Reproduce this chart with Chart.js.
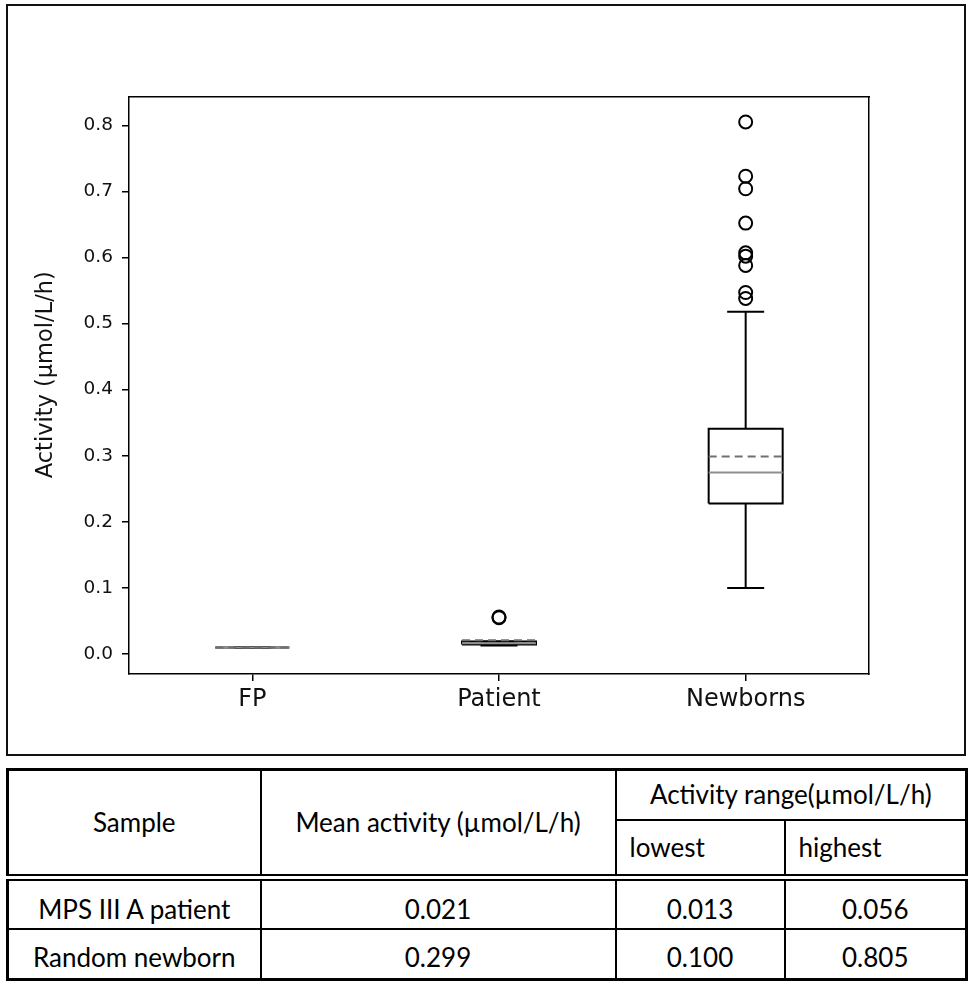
<!DOCTYPE html>
<html><head><meta charset="utf-8">
<script src="https://cdn.jsdelivr.net/npm/chart.js@4.4.0/dist/chart.umd.min.js"></script>
<style>
html,body{margin:0;padding:0;background:#fff;}
body{width:969px;height:994px;position:relative;overflow:hidden;}
#frame{position:absolute;left:6px;top:4px;width:960px;height:752px;border:2px solid #111;box-sizing:border-box;}
#c{position:absolute;left:0;top:0;}
table{position:absolute;left:6px;top:768px;width:959px;border-collapse:collapse;font-family:Lato,'Open Sans',sans-serif;font-size:26px;color:#000;table-layout:fixed;border:3px solid #000;}
td{border:2px solid #000;text-align:center;padding:0;line-height:1.2;}
td.sub{text-align:left;padding-left:13px;}
tr.hdr2 td{border-bottom:7px double #000;}
td.hd{border-bottom:7px double #000;}
tr.r1 td{vertical-align:bottom;padding-bottom:2px;}
tr.r2 td{vertical-align:bottom;padding-bottom:5px;}
</style></head><body>
<div id="frame"></div>
<canvas id="c" width="969" height="760"></canvas>
<table id="t"></table>
<script>
// ---- data ----
const categories = ['FP', 'Patient', 'Newborns'];
const positions = [1, 2, 3];
const whiskerLow = [0.010, 0.013, 0.100];
const q1 = [0.010, 0.0145, 0.2276];
const median = [0.010, 0.0165, 0.2745];
const q3 = [0.010, 0.019, 0.341];
const whiskerHigh = [0.010, 0.019, 0.518];
const means = [0.010, 0.021, 0.299];
const outliersFP = [];
const outliersPatient = [0.056, 0.055];
const outliersNewborns = [0.805, 0.723, 0.704, 0.652, 0.607, 0.602, 0.588, 0.547, 0.538];
const yTicks = [0.0, 0.1, 0.2, 0.3, 0.4, 0.5, 0.6, 0.7, 0.8];
const yTitle = 'Activity (µmol/L/h)';

const tableSamples = ['MPS III A patient', 'Random newborn'];
const tableMean = ['0.021', '0.299'];
const tableLowest = ['0.013', '0.100'];
const tableHighest = ['0.056', '0.805'];

// ---- styles ----
const HALF_BOX = 0.15, HALF_CAP = 0.075;
const outlierSets = [outliersFP, outliersPatient, outliersNewborns];

const datasets = [];
function seg(points, color, width, dash, order) {
  datasets.push({data: points, showLine: true, borderColor: color, borderWidth: width,
    borderDash: dash || [], pointRadius: 0, fill: false, order: order, tension: 0});
}
positions.forEach((p, i) => {
  seg([{x:p-HALF_BOX,y:means[i]},{x:p+HALF_BOX,y:means[i]}], '#707070', 2, [8,5], 0);
  seg([{x:p-HALF_BOX,y:median[i]},{x:p+HALF_BOX,y:median[i]}], '#8e8e8e', 2, null, 1);
  seg([{x:p-HALF_BOX,y:q1[i]},{x:p+HALF_BOX,y:q1[i]},{x:p+HALF_BOX,y:q3[i]},{x:p-HALF_BOX,y:q3[i]},{x:p-HALF_BOX,y:q1[i]}], '#000', 2, null, 2);
  seg([{x:p,y:q1[i]},{x:p,y:whiskerLow[i]}], '#000', 2, null, 3);
  seg([{x:p,y:q3[i]},{x:p,y:whiskerHigh[i]}], '#000', 2, null, 3);
  seg([{x:p-HALF_CAP,y:whiskerLow[i]},{x:p+HALF_CAP,y:whiskerLow[i]}], '#000', 2, null, 3);
  seg([{x:p-HALF_CAP,y:whiskerHigh[i]},{x:p+HALF_CAP,y:whiskerHigh[i]}], '#000', 2, null, 3);
  datasets.push({data: outlierSets[i].map(v => ({x:p, y:v})), showLine:false,
    pointStyle:'circle', pointRadius:6.5, pointBorderWidth:2, pointBackgroundColor:'rgba(0,0,0,0)',
    pointBorderColor:'#000', order: 0});
});

Chart.defaults.font.family = "'DejaVu Sans', sans-serif";
Chart.defaults.color = '#000';

new Chart(document.getElementById('c'), {
  type: 'scatter',
  data: {datasets},
  options: {
    responsive: false, animation: false, events: [],
    layout: {padding: {left: 0, top: 97, right: 100, bottom: 0}},
    plugins: {legend: {display: false}, tooltip: {enabled: false}},
    scales: {
      x: {type: 'linear', position: 'bottom', min: 0.5, max: 3.5,
        afterBuildTicks: s => { s.ticks = positions.map(v => ({value: v})); },
        afterFit: s => { s.height = 86; },
        ticks: {callback: (v) => categories[positions.indexOf(v)], font: {size: 24}, padding: 4, maxRotation: 0, autoSkip: false, color:'#111'},
        grid: {display: true, drawOnChartArea: false, drawTicks: true, tickLength: 7, color: '#000', lineWidth: 1.5},
        border: {display: true, color: '#000', width: 1.5}
      },
      y: {type: 'linear', position: 'left', min: -0.0302, max: 0.8428,
        afterBuildTicks: s => { s.ticks = yTicks.map(v => ({value: v})); },
        afterFit: s => { s.width = 129; },
        ticks: {callback: v => v.toFixed(1), font: {size: 18.5}, padding: 9, color:'#111'},
        grid: {display: true, drawOnChartArea: false, drawTicks: true, tickLength: 7, color: '#000', lineWidth: 1.5},
        border: {display: true, color: '#000', width: 1.5},
        title: {display: true, text: '   ' + yTitle, font: {size: 22.5}, padding: {top: 33, bottom: 0}, color:'#111'}
      },
      x2: {type: 'linear', position: 'top', display: true, min: 0.5, max: 3.5,
        afterFit: s => { s.height = 0; },
        ticks: {display: false}, grid: {display: false, drawTicks: false},
        border: {display: true, color: '#000', width: 1.5}},
      y2: {type: 'linear', position: 'right', display: true, min: -0.0302, max: 0.8428,
        afterFit: s => { s.width = 0; },
        ticks: {display: false}, grid: {display: false, drawTicks: false},
        border: {display: true, color: '#000', width: 1.5}}
    }
  }
});

// ---- table ----
const t = document.getElementById('t');
let html = '<colgroup><col style="width:253px"><col style="width:355px"><col style="width:169px"><col style="width:182px"></colgroup>';
html += '<tr style="height:50px"><td rowspan="2" class="hd">Sample</td><td rowspan="2" class="hd">Mean activity (µmol/L/h)</td><td colspan="2">Activity range(µmol/L/h)</td></tr>';
html += '<tr class="hdr2" style="height:58px"><td class="sub">lowest</td><td class="sub">highest</td></tr>';
tableSamples.forEach((s, i) => {
  html += '<tr class="r' + (i+1) + '" style="height:51px"><td>' + s + '</td><td>' + tableMean[i] + '</td><td>' + tableLowest[i] + '</td><td>' + tableHighest[i] + '</td></tr>';
});
t.innerHTML = html;
</script>
</body></html>
